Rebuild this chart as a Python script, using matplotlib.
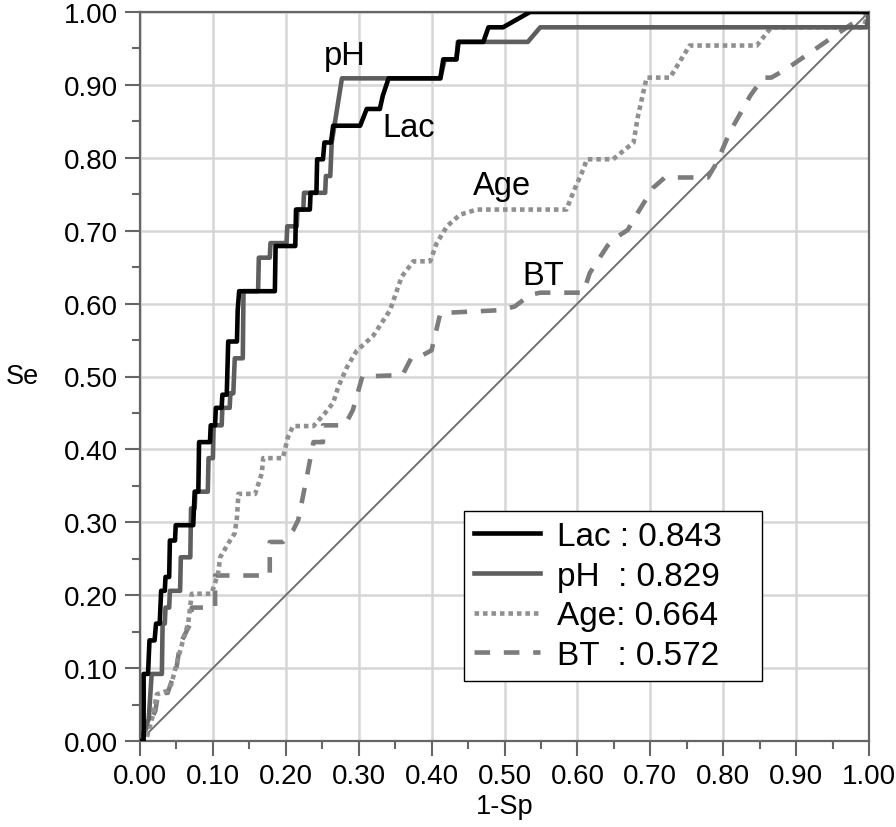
import matplotlib
matplotlib.use('Agg')
import matplotlib.pyplot as plt
from matplotlib.ticker import MultipleLocator, FormatStrFormatter

plt.rcParams['font.family'] = ['Liberation Sans', 'DejaVu Sans']

# ROC curve vertices (1-Sp, Se)
lac_x = [0, 0.005, 0.005, 0.011, 0.013, 0.020, 0.022, 0.027, 0.029, 0.034, 0.035, 0.040, 0.041,
         0.048, 0.049, 0.073, 0.075, 0.080, 0.081, 0.096, 0.097, 0.103, 0.104, 0.112, 0.113,
         0.119, 0.121, 0.133, 0.134, 0.136, 0.185, 0.186, 0.213, 0.214, 0.233, 0.234, 0.242,
         0.243, 0.251, 0.253, 0.262, 0.265, 0.302, 0.311, 0.329, 0.333, 0.341, 0.412, 0.416,
         0.434, 0.437, 0.471, 0.478, 0.498, 0.535, 1.0]
lac_y = [0, 0, 0.092, 0.092, 0.138, 0.138, 0.161, 0.161, 0.206, 0.206, 0.225, 0.225, 0.275,
         0.275, 0.296, 0.296, 0.342, 0.342, 0.410, 0.410, 0.433, 0.433, 0.457, 0.457, 0.475,
         0.475, 0.548, 0.548, 0.591, 0.617, 0.617, 0.679, 0.679, 0.729, 0.729, 0.752, 0.752,
         0.798, 0.798, 0.821, 0.821, 0.844, 0.844, 0.867, 0.867, 0.885, 0.909, 0.909, 0.935,
         0.935, 0.959, 0.959, 0.979, 0.979, 1.0, 1.0]

ph_x = [0, 0.012, 0.016, 0.030, 0.031, 0.034, 0.035, 0.040, 0.041, 0.055, 0.056, 0.069, 0.070,
        0.075, 0.076, 0.093, 0.094, 0.100, 0.101, 0.112, 0.113, 0.123, 0.124, 0.128, 0.130,
        0.141, 0.142, 0.162, 0.163, 0.178, 0.179, 0.201, 0.202, 0.215, 0.216, 0.224, 0.225,
        0.254, 0.255, 0.261, 0.263, 0.277, 0.412, 0.418, 0.434, 0.436, 0.532, 0.549, 0.997, 1.0]
ph_y = [0, 0.030, 0.092, 0.092, 0.161, 0.161, 0.183, 0.183, 0.206, 0.206, 0.252, 0.252, 0.319,
        0.319, 0.342, 0.342, 0.388, 0.388, 0.433, 0.433, 0.457, 0.457, 0.477, 0.477, 0.525,
        0.525, 0.617, 0.617, 0.663, 0.663, 0.683, 0.683, 0.706, 0.706, 0.729, 0.729, 0.752,
        0.752, 0.775, 0.775, 0.821, 0.909, 0.909, 0.935, 0.935, 0.959, 0.959, 0.979, 0.979, 1.0]

age_x = [0, 0.009, 0.018, 0.023, 0.038, 0.043, 0.050, 0.059, 0.066, 0.071, 0.098, 0.107, 0.110,
         0.121, 0.130, 0.133, 0.135, 0.158, 0.167, 0.169, 0.196, 0.203, 0.210, 0.238, 0.254,
         0.265, 0.272, 0.284, 0.297, 0.320, 0.343, 0.359, 0.375, 0.398, 0.407, 0.421, 0.439,
         0.462, 0.585, 0.594, 0.608, 0.613, 0.649, 0.677, 0.683, 0.695, 0.727, 0.754, 0.846,
         0.866, 0.992, 1.0]
age_y = [0, 0.004, 0.036, 0.064, 0.069, 0.078, 0.105, 0.138, 0.161, 0.202, 0.202, 0.229, 0.252,
         0.271, 0.285, 0.307, 0.339, 0.339, 0.367, 0.388, 0.388, 0.417, 0.432, 0.432, 0.450,
         0.464, 0.486, 0.513, 0.535, 0.556, 0.591, 0.637, 0.658, 0.658, 0.683, 0.706, 0.722,
         0.729, 0.729, 0.752, 0.784, 0.798, 0.798, 0.821, 0.857, 0.910, 0.910, 0.954, 0.954,
         0.979, 0.979, 1.0]

bt_x = [0, 0.014, 0.021, 0.025, 0.038, 0.042, 0.050, 0.055, 0.069, 0.071, 0.103, 0.103, 0.178,
        0.178, 0.196, 0.210, 0.217, 0.226, 0.238, 0.251, 0.251, 0.281, 0.292, 0.305, 0.360,
        0.372, 0.380, 0.400, 0.412, 0.494, 0.514, 0.535, 0.549, 0.608, 0.617, 0.641, 0.649,
        0.669, 0.683, 0.704, 0.720, 0.779, 0.791, 0.809, 0.837, 0.855, 0.866, 0.887, 1.0]
bt_y = [0, 0.027, 0.041, 0.066, 0.066, 0.078, 0.100, 0.133, 0.161, 0.183, 0.183, 0.227, 0.227,
        0.273, 0.273, 0.289, 0.303, 0.348, 0.410, 0.410, 0.433, 0.433, 0.454, 0.500, 0.502,
        0.525, 0.525, 0.536, 0.587, 0.591, 0.596, 0.612, 0.615, 0.615, 0.642, 0.679, 0.688,
        0.701, 0.725, 0.759, 0.773, 0.773, 0.793, 0.835, 0.885, 0.910, 0.910, 0.922, 1.0]

labels = ['Lac : 0.843', 'pH  : 0.829', 'Age: 0.664', 'BT  : 0.572']

fig = plt.figure(figsize=(8.96, 8.28), dpi=100)
ax = fig.add_axes([140/896, 86/828, 729/896, 729/828])

ax.plot([0, 1], [0, 1], color='#707070', lw=1.4, zorder=2)
l_bt, = ax.plot(bt_x, bt_y, color='#7c7c7c', lw=3.3, ls=(0, (3.4, 3.0)), zorder=3)
l_age, = ax.plot(age_x, age_y, color='#909090', lw=3.3, ls=(0, (1.0, 0.85)), zorder=3)
l_ph, = ax.plot(ph_x, ph_y, color='#5e5e5e', lw=3.3, zorder=4)
l_lac, = ax.plot(lac_x, lac_y, color='black', lw=3.3, zorder=5)

ax.set_xlim(0, 1)
ax.set_ylim(0, 1)
ax.xaxis.set_major_locator(MultipleLocator(0.1))
ax.yaxis.set_major_locator(MultipleLocator(0.1))
ax.xaxis.set_minor_locator(MultipleLocator(0.05))
ax.yaxis.set_minor_locator(MultipleLocator(0.05))
ax.xaxis.set_major_formatter(FormatStrFormatter('%.2f'))
ax.yaxis.set_major_formatter(FormatStrFormatter('%.2f'))
ax.grid(True, which='major', color='#d6d6d6', lw=1.8, zorder=0)
ax.set_axisbelow(True)
ax.tick_params(which='major', direction='out', length=11, width=1.5, color='#666666',
               labelsize=20, pad=5)
ax.tick_params(which='minor', direction='out', length=5.5, width=1.5, color='#666666')
for s in ax.spines.values():
    s.set_color('#666666')
    s.set_linewidth(1.6)

ax.set_xlabel('1-Sp', fontsize=19.5, labelpad=3)
ax.set_ylabel('Se', fontsize=19.5, rotation=0, labelpad=30, va='center')

ax.text(0.281, 0.929, 'pH', fontsize=23.5, ha='center', va='baseline')
ax.text(0.332, 0.830, 'Lac', fontsize=23.5, ha='left', va='baseline')
ax.text(0.457, 0.750, 'Age', fontsize=23.5, ha='left', va='baseline')
ax.text(0.524, 0.627, 'BT', fontsize=23.5, ha='left', va='baseline')

leg = ax.legend([l_lac, l_ph, l_age, l_bt], labels, loc='upper left',
                bbox_to_anchor=(0.444, 0.082, 0.409, 0.2335), mode='expand',
                fontsize=24, frameon=True, fancybox=False, edgecolor='black',
                framealpha=1, handlelength=2.0, handletextpad=0.5, labelspacing=0.26,
                borderpad=0.3, borderaxespad=0)
leg.get_frame().set_linewidth(1.0)

fig.savefig('out.png', dpi=100)
